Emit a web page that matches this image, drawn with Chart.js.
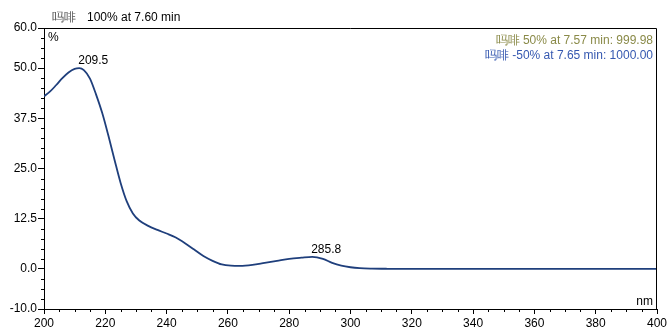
<!DOCTYPE html>
<html>
<head>
<meta charset="utf-8">
<script src="https://cdn.jsdelivr.net/npm/chart.js@4.4.0/dist/chart.umd.min.js"></script>
<style>
html, body { margin: 0; padding: 0; background: #fff; }
canvas { display: block; }
</style>
</head>
<body>
<canvas id="c2" width="670" height="334"></canvas>
<script>
// spectrum (nm, %)
const wavelengths = [200, 202, 204, 206, 208, 210, 211.5, 213, 215, 217, 219, 221, 223, 225, 227, 229, 231, 234, 237, 240, 243, 246, 249, 252, 255, 258, 261, 264, 268, 272, 276, 280, 284, 287.5, 291, 294, 297, 300, 303, 307, 312, 320, 340, 360, 380, 400]
const absorbance = [43, 44.2, 45.8, 47.5, 48.9, 49.8, 50, 49.5, 47.4, 43.4, 38.8, 33.2, 27.2, 21.4, 16.8, 13.8, 12.1, 10.7, 9.7, 8.8, 7.8, 6.4, 4.8, 3.2, 2.0, 1.1, 0.8, 0.75, 1.0, 1.5, 2.0, 2.5, 2.8, 3.0, 2.5, 1.5, 0.8, 0.4, 0.18, 0.07, 0.02, 0, 0, 0, 0, 0]
// peak captions and where their apex sits on the drawn curve
const peakLabels = ["209.5", "285.8"]
const peakAt = [211.5, 287.5]
const yLabelTicks = [-10, 0, 12.5, 25, 37.5, 50, 60]
const titleName = "吗啡"
const titleText = "100% at 7.60 min"
const matchLines = [
    ["吗啡 50% at 7.57 min: 999.98", "#8a8a48"],
    ["吗啡 -50% at 7.65 min: 1000.00", "#3558b0"]
]

const FONT = "'Liberation Sans', Arial, sans-serif"
Chart.defaults.font.family = FONT
Chart.defaults.font.size = 12
Chart.defaults.color = "#000"

let points = wavelengths.map((w, i) => ({ x: w, y: absorbance[i] }))

// frame, minor ticks and all the texts
let extras = {
    id: "extras",
    afterDraw(chart) {
        let ctx = chart.ctx
        let a = chart.chartArea
        let xs = chart.scales.x
        let ys = chart.scales.y
        ctx.save()
        ctx.strokeStyle = "#000"
        ctx.lineWidth = 1
        ctx.beginPath()
        ctx.moveTo(a.left, a.top + 0.5)
        ctx.lineTo(a.right - 0.5, a.top + 0.5)
        ctx.lineTo(a.right - 0.5, a.bottom)
        ctx.stroke()

        // minor ticks
        ctx.beginPath()
        for (let v = -10; v <= 60; v += 2.5) {
            if (yLabelTicks.includes(v)) continue
            let py = Math.round(ys.getPixelForValue(v)) + 0.5
            ctx.moveTo(a.left - 3, py)
            ctx.lineTo(a.left, py)
        }
        for (let v = 200; v <= 400; v += 5) {
            if (v % 20 === 0) continue
            let px = Math.round(xs.getPixelForValue(v)) + 0.5
            ctx.moveTo(px, a.bottom)
            ctx.lineTo(px, a.bottom + 3)
        }
        ctx.stroke()

        ctx.font = "12px " + FONT
        ctx.textBaseline = "alphabetic"

        // title
        ctx.textAlign = "left"
        ctx.fillStyle = "#555"
        ctx.fillText(titleName, 52, 21)
        let w = ctx.measureText(titleName).width
        ctx.fillStyle = "#000"
        ctx.fillText(titleText, 52 + w + 11, 21)

        // axis units
        ctx.fillText("%", a.left + 4, a.top + 13)
        ctx.textAlign = "right"
        ctx.fillText("nm", a.right - 4, a.bottom - 4)

        // library match lines
        matchLines.forEach((m, i) => {
            ctx.fillStyle = m[1]
            ctx.fillText(m[0], a.right - 4, 44 + i * 15)
        })

        // peak labels
        ctx.textAlign = "left"
        ctx.fillStyle = "#000"
        peakLabels.forEach((p, i) => {
            let idx = wavelengths.indexOf(peakAt[i])
            let px = xs.getPixelForValue(peakAt[i])
            let py = ys.getPixelForValue(absorbance[idx])
            ctx.fillText(p, px - 1, py - 4)
        })
        ctx.restore()
    }
}

let chart = new Chart(document.getElementById("c2"), {
    type: "line",
    data: {
        datasets: [{
            data: points,
            borderColor: "#1f3f7c",
            borderWidth: 1.8,
            pointRadius: 0,
            fill: false,
            tension: 0.4,
            cubicInterpolationMode: "monotone"
        }]
    },
    options: {
        responsive: false,
        animation: false,
        layout: { padding: { top: 28, right: 13, left: 0, bottom: 0 } },
        plugins: { legend: { display: false }, tooltip: { enabled: false } },
        scales: {
            x: {
                type: "linear",
                min: 200,
                max: 400,
                afterFit: s => { s.height = 25 },
                ticks: {
                    stepSize: 5,
                    autoSkip: false,
                    maxRotation: 0,
                    padding: 2,
                    callback: v => (v % 20 === 0 ? v : "")
                },
                grid: {
                    drawOnChartArea: false,
                    tickLength: 5,
                    tickColor: c => (c.tick && c.tick.value % 20 === 0 ? "#000" : "rgba(0,0,0,0)")
                },
                border: { color: "#000", width: 1 }
            },
            y: {
                min: -10,
                max: 60,
                afterFit: s => { s.width = 44 },
                afterBuildTicks: s => {
                    let t = []
                    for (let v = -10; v <= 60; v += 2.5) t.push({ value: v })
                    s.ticks = t
                },
                ticks: {
                    autoSkip: false,
                    padding: 1,
                    callback: v => (yLabelTicks.includes(v) ? v.toFixed(1) : "")
                },
                grid: {
                    drawOnChartArea: false,
                    tickLength: 6,
                    tickColor: c => (c.tick && yLabelTicks.includes(c.tick.value) ? "#000" : "rgba(0,0,0,0)")
                },
                border: { color: "#000", width: 1 }
            }
        }
    },
    plugins: [extras]
})
</script>
</body>
</html>
